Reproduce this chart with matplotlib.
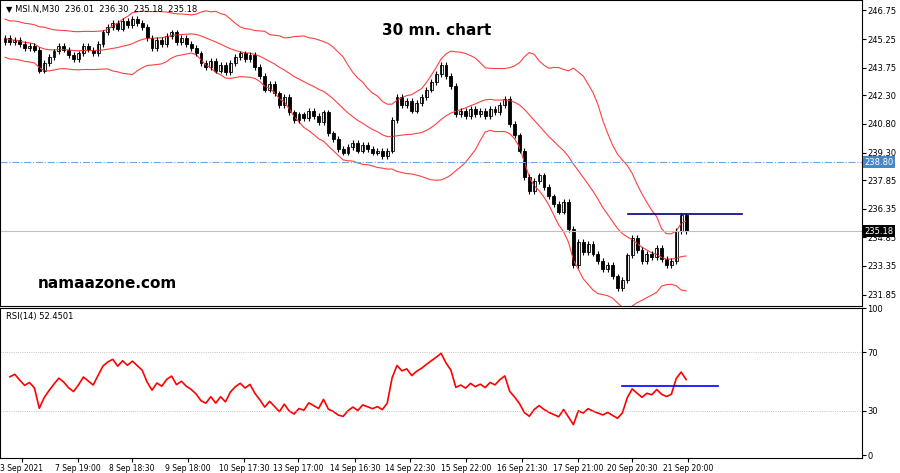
import matplotlib
matplotlib.use("Agg")
import matplotlib.pyplot as plt
import numpy as np
import pandas as pd

closes = [245.3,245.1,245.2,245.0,244.8,244.9,244.7,243.6,244.0,244.3,
244.6,244.9,244.7,244.4,244.2,244.5,244.9,244.7,244.5,245.0,
245.6,245.9,246.1,245.8,246.2,246.0,246.3,246.1,245.9,245.3,
244.8,245.2,245.0,245.4,245.6,245.1,245.3,245.0,244.8,244.5,
244.0,243.8,244.1,243.6,243.9,243.5,244.0,244.3,244.5,244.2,
244.4,243.8,243.3,242.6,242.9,242.4,241.8,242.2,241.4,241.0,
241.3,241.1,241.5,241.2,240.9,241.4,240.3,240.0,239.5,239.3,
239.6,239.8,239.4,239.7,239.5,239.3,239.4,239.1,239.4,241.0,
242.2,241.8,242.0,241.5,241.9,242.2,242.6,243.0,243.4,243.9,
243.3,242.8,241.3,241.5,241.2,241.6,241.3,241.5,241.2,241.6,
241.4,241.8,242.1,240.8,240.2,239.4,238.0,237.3,237.8,238.1,
237.5,237.0,236.6,236.2,236.7,235.3,233.4,234.6,234.1,234.5,
234.0,233.6,233.2,233.4,232.8,232.2,232.6,233.9,234.8,234.2,
233.6,234.0,233.8,234.3,233.7,233.4,233.6,235.2,236.0,235.18]
opens = [245.1] + closes[:-1]
wick = 0.15
price_ticks = [246.75,245.25,243.75,242.30,240.80,239.30,237.85,236.35,234.85,233.35,231.85]
date_labels = ["3 Sep 2021","7 Sep 19:00","8 Sep 18:30","9 Sep 18:00","10 Sep 17:30","13 Sep 17:00",
"14 Sep 16:30","14 Sep 22:30","15 Sep 22:00","16 Sep 21:30","17 Sep 21:00","20 Sep 20:30","21 Sep 20:00"]
date_px = [22,78,132,188,244,298,355,410,466,522,578,632,688]

W,H = 900,473
fig = plt.figure(figsize=(9,4.73), dpi=100)
px = lambda v: v/4.9
xl = (-5/4.9, (862-5)/4.9)
ax = fig.add_axes([0/W, 1-306/H, 862/W, 306/H])
ax2 = fig.add_axes([0/W, 1-458/H, 862/W, 150/H])

c = pd.Series(closes)
mid = c.rolling(20, min_periods=1).mean()
sd = c.rolling(20, min_periods=1).std().fillna(0.5).clip(lower=0.5)
idx = np.arange(len(closes))
for band in (mid, mid+2*sd, mid-2*sd):
    ax.plot(idx, band, color='#ff4040', lw=0.8)
for i,(o,cl) in enumerate(zip(opens, closes)):
    hi, lo = max(o,cl)+wick, min(o,cl)-wick
    ax.vlines(i, lo, hi, color='black', lw=0.8)
    ax.bar(i, max(abs(cl-o),0.03), bottom=min(o,cl), width=0.6,
           color='white' if cl>=o else 'black', edgecolor='black', lw=0.6)
ax.axhline(238.80, color='#6fa8dc', lw=0.8, ls='-.')
ax.axhline(235.18, color='#c0c0c0', lw=0.8)
ax.plot([px(628-5), px(742-5)], [236.1,236.1], color='#000080', lw=1.2)
ax.set_xlim(*xl); ax.set_ylim(231.25, 247.3)
ax.yaxis.tick_right()
ax.tick_params(axis='y', labelsize=6, pad=1, length=3)
ax.set_yticks(price_ticks); ax.set_yticklabels([f"{t:.2f}" for t in price_ticks])
ax.set_xticks([])
ax.text(1.003, 238.80, "238.80", transform=ax.get_yaxis_transform(), fontsize=6, color='white', va='center',
        bbox=dict(fc='#4a86c5', ec='none', pad=1))
ax.text(1.003, 235.18, "235.18", transform=ax.get_yaxis_transform(), fontsize=6, color='white', va='center',
        bbox=dict(fc='black', ec='none', pad=1))
ax.text(437/862, 1-30/306, "30 mn. chart", transform=ax.transAxes, fontsize=11, fontweight='bold', ha='center', va='center')
ax.text(107/862, 1-283/306, "namaazone.com", transform=ax.transAxes, fontsize=11, fontweight='bold', ha='center', va='center')
ax.text(6/862, 1-9/306, "▼ MSI.N,M30  236.01  236.30  235.18  235.18", transform=ax.transAxes, fontsize=6, va='center')

d = np.diff(closes)
up, dn = 0.12, 0.09
rsi = []
for v in d:
    up = (up*13 + max(v,0))/14
    dn = (dn*13 + max(-v,0))/14
    rsi.append(100 - 100/(1+up/dn))
ax2.plot(idx[1:], rsi, color='red', lw=1.2)
ax2.axhline(70, color='#b0b0b0', lw=0.6, ls=':')
ax2.axhline(30, color='#b0b0b0', lw=0.6, ls=':')
ax2.plot([px(622-5), px(718-5)], [47,47], color='#0000ff', lw=1.2)
ax2.set_xlim(*xl); ax2.set_ylim(-2, 100)
ax2.yaxis.tick_right()
ax2.tick_params(axis='y', labelsize=6, pad=1, length=3)
ax2.set_yticks([100,70,30,0]); ax2.set_yticklabels(["100","70","30","0"])
ax2.set_xticks([px(p-5) for p in date_px]); ax2.set_xticklabels(date_labels, fontsize=5.5)
ax2.tick_params(axis='x', length=3, pad=1)
ax2.text(6/862, 1-8/150, "RSI(14) 52.4501", transform=ax2.transAxes, fontsize=6, va='center')
fig.savefig("out.png", dpi=100)
